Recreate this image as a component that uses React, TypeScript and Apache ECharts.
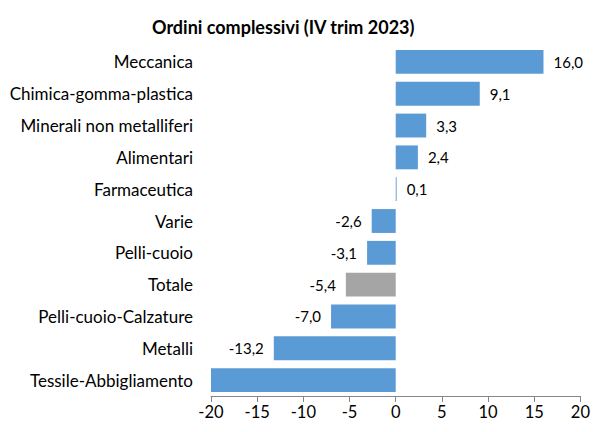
import React, { useEffect, useRef } from "react";
import * as echarts from "echarts";

const categories = [
  "Meccanica",
  "Chimica-gomma-plastica",
  "Minerali non metalliferi",
  "Alimentari",
  "Farmaceutica",
  "Varie",
  "Pelli-cuoio",
  "Totale",
  "Pelli-cuoio-Calzature",
  "Metalli",
  "Tessile-Abbigliamento",
];
const values = [16.0, 9.1, 3.3, 2.4, 0.1, -2.6, -3.1, -5.4, -7.0, -13.2, -20.0];
const hiddenLabels = ["Tessile-Abbigliamento"];
const highlight = "Totale";
const xTicks = [-20, -15, -10, -5, 0, 5, 10, 15, 20];

const FONT = "Lato, 'Open Sans', sans-serif";

export default function App() {
  const ref = useRef<HTMLDivElement>(null);
  useEffect(() => {
    if (!ref.current) return;
    const chart = echarts.init(ref.current, null, { renderer: "svg" });
    const data = values.map((v, i) => {
      const neg = v < 0;
      const cat = categories[i];
      return {
        value: v,
        itemStyle: { color: cat === highlight ? "#A5A5A5" : "#5B9BD5" },
        label: {
          show: !hiddenLabels.includes(cat),
          position: neg ? "left" : "right",
          distance: 10,
        },
      };
    });
    chart.setOption({
      animation: false,
      title: {
        text: "Ordini complessivi (IV trim 2023)",
        left: 147,
        top: 13,
        textStyle: { fontFamily: FONT, fontWeight: "bold", fontSize: 18, color: "#000" },
      },
      grid: { left: 211, right: 10, top: 46, bottom: 36, containLabel: false },
      xAxis: {
        type: "value",
        min: xTicks[0],
        max: xTicks[xTicks.length - 1],
        interval: 5,
        splitLine: { show: false },
        axisLine: { show: true, lineStyle: { color: "#868686" } },
        axisTick: { show: true, length: 6, lineStyle: { color: "#868686" } },
        axisLabel: { fontFamily: FONT, fontSize: 16.5, color: "#000", margin: 7 },
      },
      yAxis: {
        type: "category",
        data: categories,
        inverse: true,
        axisLine: { show: false },
        axisTick: { show: false },
        axisLabel: { fontFamily: FONT, fontSize: 17, color: "#000", margin: 18 },
      },
      series: [
        {
          type: "bar",
          data,
          barCategoryGap: "25%",
          label: {
            fontFamily: FONT,
            fontSize: 15,
            color: "#000",
            formatter: (p: any) => Number(p.value).toFixed(1).replace(".", ","),
          },
        },
      ],
    });
    return () => chart.dispose();
  }, []);
  return (
    <div
      ref={ref}
      style={{ position: "fixed", left: 0, top: 0, width: 593, height: 432, background: "#fff" }}
    />
  );
}
